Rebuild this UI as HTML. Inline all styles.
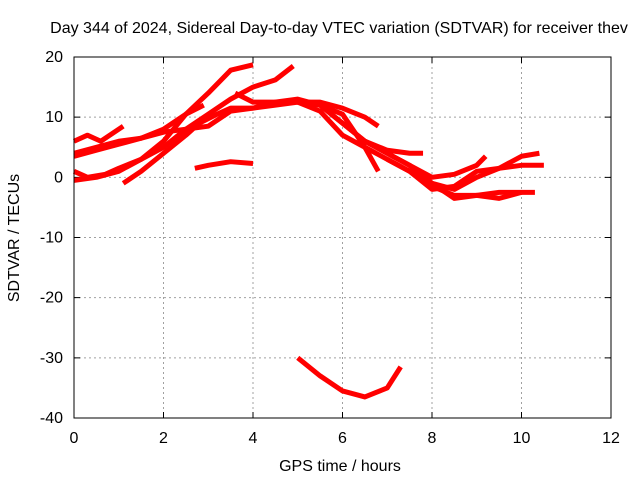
<!DOCTYPE html>
<html><head><meta charset="utf-8"><style>
html,body{margin:0;padding:0;background:#fff;}
svg text{font-family:"Liberation Sans",sans-serif;font-size:16px;fill:#000;}
</style></head><body>
<svg id="chart" width="640" height="480" xmlns="http://www.w3.org/2000/svg">
<rect x="0" y="0" width="640" height="480" fill="#fff"/>
<text x="339" y="33" text-anchor="middle">Day 344 of 2024, Sidereal Day-to-day VTEC variation (SDTVAR) for receiver thev</text>
<text x="340" y="471" text-anchor="middle">GPS time / hours</text>
<text transform="translate(19,238) rotate(-90)" text-anchor="middle">SDTVAR / TECUs</text>
<g id="grid"></g>
<g id="ticks"></g>
<g id="series"></g>
<rect x="74" y="57" width="537" height="361" fill="none" stroke="#000" stroke-width="1"/>
</svg>
<script>
const xTicks=[0,2,4,6,8,10,12];
const yTicks=[20,10,0,-10,-20,-30,-40];
const track1=[[0,-0.5],[0.5,0],[1,1],[1.5,3],[2,6],[2.5,10.5],[3,14],[3.5,17.8],[4,18.7]];
const track2=[[0,6],[0.3,7],[0.6,6],[0.9,7.5],[1.1,8.5]];
const track3=[[0,4],[0.5,5],[1,6],[1.5,6.5],[2,7.5],[2.5,8],[3,8.5],[3.5,11],[4,11.5],[4.5,12],[5,12.5],[5.5,12.5],[6,11.5],[6.5,10],[6.8,8.5]];
const track4=[[0,1],[0.3,0],[0.7,0.5],[1,1.5],[1.5,3],[2,5],[2.5,8],[3,10.5],[3.5,13],[4,15],[4.5,16.2],[4.9,18.5]];
const track5=[[0,3.5],[0.5,4.5],[1,5.5],[1.5,6.5],[2,8],[2.5,10.5],[2.9,12]];
const track6=[[1.1,-1],[1.5,1],[2,4],[2.5,7],[2.8,9],[3.2,10.5],[3.5,11.5],[4,11.5],[4.5,12.5],[5,12.5],[5.5,12],[6,10.5],[6.5,5],[6.8,1]];
const track7=[[2.7,1.5],[3,2],[3.5,2.6],[4,2.3]];
const track8=[[3.6,14],[4,12.5],[4.5,12.5],[5,13],[5.5,12],[6,9],[6.5,6],[7,4.5],[7.5,4],[7.8,4]];
const track9=[[5,12.5],[5.5,11],[6,7],[6.5,5],[7,3],[7.5,1],[8,-1.5],[8.5,-3],[9,-3],[9.5,-2.5],[10,-2.5],[10.3,-2.5]];
const track10=[[5.5,12],[6,9],[6.5,6],[7,4],[7.5,2],[8,0],[8.5,0.5],[9,2],[9.2,3.5]];
const track11=[[6.5,6],[7,4],[7.5,2],[8,-1],[8.5,-3.5],[9,-3],[9.5,-3.5],[10,-2.5]];
const track12=[[7,3],[7.5,1],[8,-2],[8.5,-1.5],[9,1],[9.5,1.5],[10,2],[10.5,2]];
const track13=[[7.5,2],[8,-1],[8.5,-2],[9,0],[9.5,1.5],[10,3.5],[10.4,4]];
const track14=[[5,-30],[5.5,-33],[6,-35.5],[6.5,-36.5],[7,-35],[7.3,-31.5]];
const tracks=[track1,track2,track3,track4,track5,track6,track7,track8,track9,track10,track11,track12,track13,track14];

const NS="http://www.w3.org/2000/svg";
function xs(h){return 74+(h-0)*(537/12);}
function ys(v){return 418-(v+40)*(361/60);}
const grid=document.getElementById('grid'),ticks=document.getElementById('ticks'),ser=document.getElementById('series');
xTicks.forEach(t=>{
  const x=xs(t);
  if(t>0&&t<12){const l=document.createElementNS(NS,'line');
  
  
  l.setAttribute('x1',x);l.setAttribute('x2',x);l.setAttribute('y1',57);l.setAttribute('y2',418);
  l.setAttribute('stroke','#a0a0a0');l.setAttribute('stroke-dasharray','2,3');grid.appendChild(l);}
  const tk=document.createElementNS(NS,'path');
  
  
  tk.setAttribute('d',`M${x},418v-6M${x},57v6`);tk.setAttribute('stroke','#000');ticks.appendChild(tk);
  const tx=document.createElementNS(NS,'text');
  
  
  tx.setAttribute('x',x);tx.setAttribute('y',443);tx.setAttribute('text-anchor','middle');tx.textContent=t;ticks.appendChild(tx);
});
yTicks.forEach(t=>{
  const y=ys(t);
  if(t<20&&t>-40){const l=document.createElementNS(NS,'line');
  
  
  l.setAttribute('x1',74);l.setAttribute('x2',611);l.setAttribute('y1',y);l.setAttribute('y2',y);
  l.setAttribute('stroke','#a0a0a0');l.setAttribute('stroke-dasharray','2,3');grid.appendChild(l);}
  const tk=document.createElementNS(NS,'path');
  
  
  tk.setAttribute('d',`M74,${y}h6M611,${y}h-6`);tk.setAttribute('stroke','#000');ticks.appendChild(tk);
  const tx=document.createElementNS(NS,'text');
  
  
  tx.setAttribute('x',63);tx.setAttribute('y',y+5);tx.setAttribute('text-anchor','end');tx.textContent=t;ticks.appendChild(tx);
});
tracks.forEach(tr=>{
  const p=document.createElementNS(NS,'polyline');
  
  
  p.setAttribute('points',tr.map(d=>xs(d[0])+','+ys(d[1])).join(' '));
  p.setAttribute('fill','none');p.setAttribute('stroke','#ff0000');p.setAttribute('stroke-width','5');
  p.setAttribute('stroke-linejoin','round');
  ser.appendChild(p);
});
</script>
</body></html>
